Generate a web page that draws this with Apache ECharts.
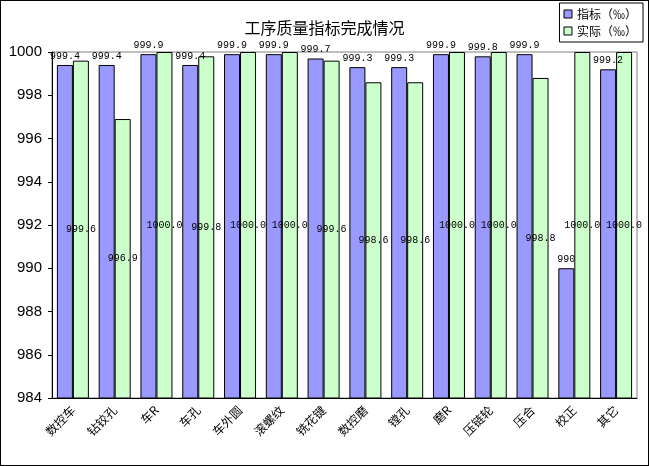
<!DOCTYPE html>
<html>
<head>
<meta charset="utf-8">
<script src="https://cdn.jsdelivr.net/npm/echarts@6/dist/echarts.min.js"></script>
<style>
html,body{margin:0;padding:0;background:#fff;}
#chart{width:649px;height:466px;box-sizing:border-box;border:1px solid #000;}
</style>
</head>
<body>
<div id="chart"></div>
<script>
// 工序名称
var categories = ['数控车', '钻铰孔', '车R', '车孔', '车外圆', '滚螺纹', '铣花键', '数控磨', '镗孔', '磨R', '压链轮', '压合', '校正', '其它'];
// 指标（‰）
var targetVals = [999.4, 999.4, 999.9, 999.4, 999.9, 999.9, 999.7, 999.3, 999.3, 999.9, 999.8, 999.9, 990, 999.2];
// 实际（‰）
var actualVals = [999.6, 996.9, 1000.0, 999.8, 1000.0, 1000.0, 999.6, 998.6, 998.6, 1000.0, 1000.0, 998.8, 1000.0, 1000.0];

var chart = echarts.init(document.getElementById('chart'));

var numFont = {fontFamily: 'Liberation Mono', fontSize: 10, color: '#000'};

chart.setOption({
	animation: false,
	backgroundColor: '#fff',
	title: {
		text: '工序质量指标完成情况',
		left: 'center',
		top: 14,
		textStyle: {fontFamily: 'Noto Sans CJK SC', fontSize: 16, fontWeight: 'normal', color: '#000'}
	},
	legend: {
		orient: 'vertical',
		right: 5,
		top: 2,
		padding: [5, 6, 5, 4],
		itemGap: 5,
		itemWidth: 8,
		itemHeight: 8,
		borderColor: '#000',
		borderWidth: 1,
		backgroundColor: '#fff',
		textStyle: {fontFamily: 'Noto Sans CJK SC', fontSize: 12, color: '#000'},
		data: [
			{name: '指标（‰）', icon: 'rect', itemStyle: {borderColor: '#000', borderWidth: 1}},
			{name: '实际（‰）', icon: 'rect', itemStyle: {borderColor: '#000', borderWidth: 1}}
		]
	},
	grid: {
		left: 51, right: 11, top: 51, bottom: 67,
		show: true,
		borderColor: '#808080',
		borderWidth: 1
	},
	xAxis: {
		type: 'category',
		data: categories,
		axisLine: {lineStyle: {color: '#000', width: 1}},
		axisTick: {show: false},
		axisLabel: {
			rotate: 45,
			interval: 0,
			margin: 10,
			fontFamily: 'Noto Sans CJK SC',
			fontSize: 12,
			color: '#000'
		}
	},
	yAxis: {
		type: 'value',
		min: 984,
		max: 1000,
		interval: 2,
		splitLine: {show: false},
		axisLine: {show: true, lineStyle: {color: '#000', width: 1}},
		axisTick: {show: true, length: 4, lineStyle: {color: '#000'}},
		axisLabel: {
			fontFamily: 'Liberation Sans', fontSize: 15, color: '#000', margin: 10,
			formatter: function(v) { return String(v); }
		}
	},
	series: [{
		name: '指标（‰）',
		type: 'bar',
		data: targetVals,
		barWidth: 16,
		barGap: '0%',
		itemStyle: {color: '#9999FF', borderColor: '#000', borderWidth: 1},
		label: {
			show: true,
			position: 'top',
			distance: 4,
			formatter: function(p) { return String(p.value); },
			fontFamily: numFont.fontFamily, fontSize: numFont.fontSize, color: numFont.color
		}
	}, {
		name: '实际（‰）',
		type: 'bar',
		data: actualVals,
		barWidth: 16,
		itemStyle: {color: '#CCFFCC', borderColor: '#000', borderWidth: 1},
		label: {
			show: true,
			position: 'inside',
			formatter: function(p) { return p.value.toFixed(1); },
			fontFamily: numFont.fontFamily, fontSize: numFont.fontSize, color: numFont.color
		}
	}]
});
</script>
</body>
</html>
